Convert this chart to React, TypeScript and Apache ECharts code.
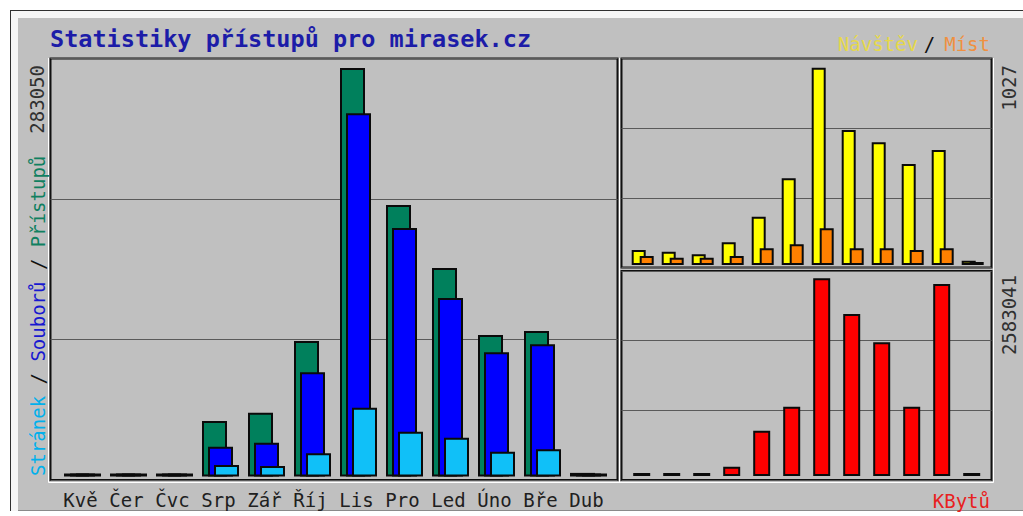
import React, { useEffect, useRef } from 'react';
import * as echarts from 'echarts';

const months = ['Kvě', 'Čer', 'Čvc', 'Srp', 'Zář', 'Říj', 'Lis', 'Pro', 'Led', 'Úno', 'Bře', 'Dub'];
const hits = [900, 800, 650, 38460, 44200, 93900, 283050, 188100, 144500, 98000, 100800, 2500];
const files = [700, 600, 500, 20650, 23400, 72200, 251700, 172200, 123700, 86100, 91600, 2000];
const pages = [300, 250, 200, 8000, 7300, 16100, 47700, 31000, 26900, 17200, 18800, 400];
const visits = [78, 69, 56, 118, 251, 451, 1027, 703, 639, 526, 599, 22];
const sites = [47, 38, 38, 47, 87, 108, 191, 87, 87, 78, 87, 8];
const kbytes = [3000, 2500, 2000, 121500, 592000, 905500, 2583041, 2116700, 1747000, 905500, 2508700, 4200];
const maxLabels = ['283050', '1027', '2583041'];
const titleText = 'Statistiky přístupů pro mirasek.cz';

const FONT = '"DejaVu Sans Mono", monospace';
const CW = 19 * 0.602;

export default function App() {
  const ref = useRef<HTMLDivElement>(null);
  useEffect(() => {
    if (!ref.current) return;
    const chart = echarts.init(ref.current, null, { renderer: 'svg' });
    const border = { color: '#0a0a0a', width: 2 };
    const bgGrid = { show: true, borderColor: '#101010', borderWidth: 2, backgroundColor: 'transparent' };
    const bgY = (i: number) => ({
      type: 'value', gridIndex: i, min: 0, max: 3, interval: 1,
      axisLine: { show: false }, axisTick: { show: false }, axisLabel: { show: false },
      splitLine: { show: true, lineStyle: { color: '#5a5a5a', width: 1 } },
    });
    const bgX = (i: number) => ({ type: 'value', gridIndex: i, min: 0, max: 1, show: false });
    const vtext = (x: number, y: number, text: string, fill: string, align: string) => ({
      type: 'text', x, y, rotation: Math.PI / 2,
      style: { text, fill, font: `19px ${FONT}`, textAlign: align, textVerticalAlign: 'middle' },
    });
    chart.setOption({
      animation: false,
      backgroundColor: '#ffffff',
      grid: [
        { left: 59.5, right: 411.5, top: 58.5, bottom: 516 - 476.5 },
        { left: 627.7, right: 35.3, top: 58.5, bottom: 516 - 265 },
        { left: 626.7, right: 36.3, top: 271, bottom: 516 - 476 },
        { left: 50.5, right: 1023 - 617.5, top: 58.5, bottom: 36, ...bgGrid },
        { left: 621.5, right: 31.5, top: 58.5, bottom: 516 - 267.5, ...bgGrid },
        { left: 621.5, right: 31.5, top: 271, bottom: 36, ...bgGrid },
      ],
      xAxis: [
        {
          type: 'category', gridIndex: 0, data: months,
          axisLine: { show: false }, axisTick: { show: false },
          axisLabel: { interval: 0, margin: 14, padding: [0, 4, 0, 0], fontFamily: FONT, fontSize: 19, color: '#202020' },
        },
        { type: 'category', gridIndex: 1, data: months, show: false },
        { type: 'category', gridIndex: 2, data: months, show: false },
        bgX(3), bgX(4), bgX(5),
      ],
      yAxis: [
        { type: 'value', gridIndex: 0, min: 0, max: 283050 * (476.5 - 58.5) / 408.5, show: false },
        { type: 'value', gridIndex: 1, min: 0, max: 1027 * (265 - 58.5) / 197.3, show: false },
        { type: 'value', gridIndex: 2, min: 0, max: 2583041 * (476 - 271) / 197.7, show: false },
        bgY(3), bgY(4), bgY(5),
      ],
      series: [
        { name: 'Přístupů', type: 'bar', xAxisIndex: 0, yAxisIndex: 0, data: hits, barWidth: 25, barGap: '-76%', barMinHeight: 3,
          itemStyle: { color: '#00805c', borderColor: border.color, borderWidth: border.width } },
        { name: 'Souborů', type: 'bar', xAxisIndex: 0, yAxisIndex: 0, data: files, barWidth: 25, barGap: '-76%', barMinHeight: 3,
          itemStyle: { color: '#0000ff', borderColor: border.color, borderWidth: border.width } },
        { name: 'Stránek', type: 'bar', xAxisIndex: 0, yAxisIndex: 0, data: pages, barWidth: 25, barGap: '-76%', barMinHeight: 3,
          itemStyle: { color: '#10c0f8', borderColor: border.color, borderWidth: border.width } },
        { name: 'Návštěv', type: 'bar', xAxisIndex: 1, yAxisIndex: 1, data: visits, barWidth: 14, barGap: '-42.9%', barMinHeight: 3,
          itemStyle: { color: '#ffff00', borderColor: border.color, borderWidth: border.width } },
        { name: 'Míst', type: 'bar', xAxisIndex: 1, yAxisIndex: 1, data: sites, barWidth: 14, barGap: '-42.9%', barMinHeight: 3,
          itemStyle: { color: '#ff8000', borderColor: border.color, borderWidth: border.width } },
        { name: 'KBytů', type: 'bar', xAxisIndex: 2, yAxisIndex: 2, data: kbytes, barWidth: 17, barMinHeight: 3,
          itemStyle: { color: '#ff0000', borderColor: border.color, borderWidth: border.width } },
      ],
      graphic: [
        { type: 'rect', z: -10, shape: { x: 10, y: 10, width: 1013, height: 501 }, style: { fill: '#c0c0c0' } },
        { type: 'rect', z: -9, shape: { x: 11, y: 11, width: 1012, height: 7 }, style: { fill: '#f6f6f6' } },
        { type: 'rect', z: -9, shape: { x: 11, y: 11, width: 7, height: 500 }, style: { fill: '#f6f6f6' } },
        { type: 'line', z: -8, shape: { x1: 10, y1: 10.5, x2: 1023, y2: 10.5 }, style: { stroke: '#303030', lineWidth: 1 } },
        { type: 'line', z: -8, shape: { x1: 10.5, y1: 10, x2: 10.5, y2: 511 }, style: { stroke: '#303030', lineWidth: 1 } },
        { type: 'line', z: -8, shape: { x1: 18, y1: 510.5, x2: 1023, y2: 510.5 }, style: { stroke: '#8a8a8a', lineWidth: 1 } },
        // panel highlights
        { type: 'line', shape: { x1: 48.5, y1: 58, x2: 48.5, y2: 482.5 }, style: { stroke: '#ffffff', lineWidth: 1 } },
        { type: 'line', shape: { x1: 48.5, y1: 482.5, x2: 993.5, y2: 482.5 }, style: { stroke: '#ffffff', lineWidth: 1 } },
        { type: 'line', shape: { x1: 619.5, y1: 58, x2: 619.5, y2: 482.5 }, style: { stroke: '#ffffff', lineWidth: 1 } },
        { type: 'line', shape: { x1: 993.5, y1: 58, x2: 993.5, y2: 482.5 }, style: { stroke: '#ffffff', lineWidth: 1 } },
        // title
        { type: 'text', x: 50, y: 39, style: { text: titleText, fill: '#1c1ca8', font: `bold 23.5px ${FONT}`, textAlign: 'left', textVerticalAlign: 'middle' } },
        // legend top right
        { type: 'text', x: 990, y: 44, style: { text: 'Míst', fill: '#f09040', font: `19px ${FONT}`, textAlign: 'right', textVerticalAlign: 'middle' } },
        { type: 'text', x: 990 - 5.3 * CW, y: 44, style: { text: '/', fill: '#101010', font: `19px ${FONT}`, textAlign: 'center', textVerticalAlign: 'middle' } },
        { type: 'text', x: 990 - 6.3 * CW, y: 44, style: { text: 'Návštěv', fill: '#e6d84a', font: `19px ${FONT}`, textAlign: 'right', textVerticalAlign: 'middle' } },
        // left vertical label
        vtext(38, 476, 'Stránek', '#00b0ec', 'left'),
        vtext(38, 476 - 8 * CW, '/', '#101010', 'left'),
        vtext(38, 476 - 10 * CW, 'Souborů', '#1818d0', 'left'),
        vtext(38, 476 - 18 * CW, '/', '#101010', 'left'),
        vtext(38, 476 - 20 * CW, 'Přístupů', '#108060', 'left'),
        // max labels
        vtext(37, 65, maxLabels[0], '#303030', 'right'),
        vtext(1009, 65, maxLabels[1], '#303030', 'right'),
        vtext(1009, 275, maxLabels[2], '#303030', 'right'),
        // KBytu
        { type: 'text', x: 990, y: 501, style: { text: 'KBytů', fill: '#e82020', font: `19px ${FONT}`, textAlign: 'right', textVerticalAlign: 'middle' } },
      ],
    });
    return () => chart.dispose();
  }, []);
  return <div ref={ref} style={{ position: 'absolute', left: 0, top: 0, width: 1023, height: 516 }} />;
}
